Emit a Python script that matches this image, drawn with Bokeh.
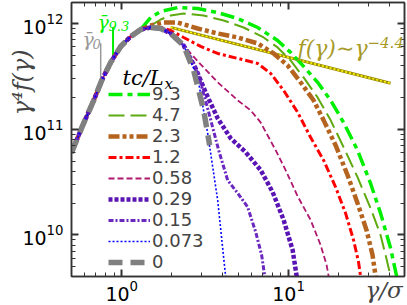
from bokeh.plotting import figure
from bokeh.models import Range1d, LogAxis, FixedTicker, Legend, LegendItem, Label
from bokeh.embed import file_html
from bokeh.resources import INLINE

# ---------------- data ----------------
x_range_lim = [0.5, 49.5]
y_range_lim = [4.05e9, 1.58e12]

x_major = [1, 10]
x_minor = [0.5, 0.6, 0.7, 0.8, 0.9, 2, 3, 4, 5, 6, 7, 8, 9, 20, 30, 40]
y_major = [1e10, 1e11, 1e12]
y_minor = [5e9, 6e9, 7e9, 8e9, 9e9, 2e10, 3e10, 4e10, 5e10, 6e10, 7e10, 8e10, 9e10,
           2e11, 3e11, 4e11, 5e11, 6e11, 7e11, 8e11, 9e11]

# common low-energy rise shared by every time
gamma_rise = [0.5, 0.584, 0.680, 0.759, 0.859, 0.986, 1.132, 1.300]
f_rise = [6.0e10, 1.09e11, 1.88e11, 2.90e11, 4.29e11, 6.07e11, 7.54e11, 8.78e11]

gamma_93 = [1.492, 1.712, 2.164, 2.852, 3.757, 4.951, 6.523, 8.593, 10.28, 12.30, 14.92,
            17.85, 21.35, 25.89, 30.97, 35.56, 40.83, 44.35, 46.22]
f_93 = [1.139e12, 1.298e12, 1.416e12, 1.385e12, 1.270e12, 1.115e12, 9.17e11, 6.91e11, 5.33e11,
        3.93e11, 2.78e11, 1.88e11, 1.16e11, 6.34e10, 3.09e10, 1.61e10, 7.54e9, 4.11e9, 2.90e9]

gamma_47 = [1.492, 1.712, 1.965, 2.351, 3.097, 4.081, 5.377, 7.086, 8.593, 10.28, 12.30, 14.92,
            17.85, 21.35, 25.89, 30.97, 35.56, 38.10, 40.83, 41.97]
f_47 = [9.57e11, 1.091e12, 1.190e12, 1.243e12, 1.190e12, 1.067e12, 9.17e11, 7.38e11, 5.94e11,
        4.48e11, 3.09e11, 2.00e11, 1.22e11, 6.77e10, 3.52e10, 1.80e10, 1.00e10, 6.48e9, 4.11e9, 3.03e9]

gamma_23 = [1.492, 1.785, 2.164, 2.852, 3.757, 4.951, 6.523, 8.132, 9.863, 11.80, 14.11, 16.20,
            19.12, 22.56, 25.89, 29.32, 31.84, 33.19, 34.12]
f_23 = [9.57e11, 1.022e12, 1.022e12, 8.97e11, 8.05e11, 7.38e11, 6.48e11, 5.21e11, 4.02e11,
        2.78e11, 1.88e11, 1.22e11, 7.07e10, 3.68e10, 2.00e10, 1.11e10, 6.48e9, 4.11e9, 3.03e9]

gamma_12 = [1.492, 1.712, 1.965, 2.351, 2.972, 3.757, 4.951, 6.523, 7.803, 9.335, 11.32, 13.54,
            16.20, 19.12, 21.95, 24.50, 26.25, 26.98, 27.74]
f_12 = [9.17e11, 9.17e11, 8.59e11, 7.38e11, 6.07e11, 5.21e11, 4.68e11, 4.19e11, 3.38e11, 2.33e11,
        1.45e11, 8.40e10, 5.10e10, 2.84e10, 1.61e10, 8.97e9, 5.56e9, 4.11e9, 3.03e9]

gamma_058 = [1.492, 1.712, 1.965, 2.256, 2.972, 3.757, 4.951, 5.923, 6.798, 8.360, 9.594, 11.32,
             13.54, 15.55, 16.89, 17.36, 17.85]
f_058 = [9.17e11, 8.97e11, 8.05e11, 6.62e11, 4.11e11, 2.78e11, 1.88e11, 1.51e11, 1.16e11, 6.34e10,
         4.11e10, 2.33e10, 1.39e10, 8.05e9, 5.21e9, 4.11e9, 3.03e9]

gamma_029 = [1.492, 1.712, 1.965, 2.351, 2.774, 3.184, 3.757, 4.496, 5.528, 6.798, 8.021, 9.335,
             10.57, 11.17, 11.48]
f_029 = [9.17e11, 8.97e11, 8.05e11, 6.20e11, 3.76e11, 2.23e11, 1.27e11, 8.22e10, 6.07e10, 4.11e10,
         2.55e10, 1.39e10, 7.22e9, 4.11e9, 3.03e9]

gamma_015 = [1.492, 1.712, 1.965, 2.417, 2.892, 3.319, 3.809, 4.313, 4.951, 5.683, 6.345, 6.893,
             7.185, 7.386]
f_015 = [9.17e11, 8.97e11, 8.05e11, 5.94e11, 3.23e11, 1.45e11, 6.34e10, 3.30e10, 2.49e10, 1.84e10,
         1.07e10, 6.48e9, 4.11e9, 3.03e9]

gamma_0073 = [1.492, 1.712, 1.965, 2.351, 2.852, 3.273, 3.757, 4.196, 4.313]
f_0073 = [9.17e11, 8.97e11, 8.05e11, 6.20e11, 3.09e11, 9.17e10, 2.14e10, 4.02e9, 3.03e9]

gamma_0 = [1.492, 1.712, 1.965, 2.351, 2.699, 3.097, 3.365]
f_0 = [9.17e11, 8.97e11, 8.05e11, 6.20e11, 3.60e11, 1.51e11, 7.07e10]

labels = ["9.3", "4.7", "2.3", "1.2", "0.58", "0.29", "0.15", "0.073", "0"]

# power-law guide f ~ gamma^-4.4  (gamma^4 f ~ gamma^-0.4)
pl_gamma = [1.965, 40.83]
pl_f = [9.2e11, 2.72e11]

# mean Lorentz factor markers
gbar_0 = 0.748
gbar_0_span = [6.5e11, 2.8e11]
gbar_93 = 0.887
gbar_93_span = [9.2e11, 4.6e11]

# ---------------- styles ----------------
styles = [
    ("#00ee00", 3.5, "14 5 5 5"),
    ("#5faa10", 2, "16 6"),
    ("#b4641e", 4.5, "11 3 4 3 4 3"),
    ("#ff0000", 3, "8 3 3 3"),
    ("#b0186e", 1.8, "6 3"),
    ("#5a14b4", 4.5, "4 2"),
    ("#6a28c0", 3, "5 2 2 2"),
    ("#0000ff", 1.6, "2 2"),
    ("#808080", 5.5, "14 8"),
]
tails = [(gamma_93, f_93), (gamma_47, f_47), (gamma_23, f_23), (gamma_12, f_12),
         (gamma_058, f_058), (gamma_029, f_029), (gamma_015, f_015),
         (gamma_0073, f_0073), (gamma_0, f_0)]

p = figure(width=407, height=305, x_axis_type="log", y_axis_type="log",
           x_range=Range1d(*x_range_lim), y_range=Range1d(*y_range_lim),
           output_backend="svg", toolbar_location=None,
           min_border_left=71, min_border_right=3, min_border_top=2, min_border_bottom=29)
p.title.visible = False
p.grid.visible = False
p.outline_line_color = "#333333"
p.outline_line_width = 1.5
p.background_fill_color = "white"

p.xaxis.ticker = FixedTicker(ticks=x_major, minor_ticks=x_minor)
p.yaxis.ticker = FixedTicker(ticks=y_major, minor_ticks=y_minor)
top_ax = LogAxis(ticker=FixedTicker(ticks=x_major, minor_ticks=x_minor))
right_ax = LogAxis(ticker=FixedTicker(ticks=y_major, minor_ticks=y_minor))
p.add_layout(top_ax, "above")
p.add_layout(right_ax, "right")

for ax in p.axis:
    ax.axis_line_color = "#333333"
    ax.axis_line_width = 1.5
    ax.major_tick_line_color = "#333333"
    ax.major_tick_line_width = 2
    ax.minor_tick_line_color = "#333333"
    ax.minor_tick_line_width = 1
    ax.major_tick_in = 7
    ax.major_tick_out = 0
    ax.minor_tick_in = 4
    ax.minor_tick_out = 0
    ax.major_label_text_font = "DejaVu Sans"
    ax.major_label_text_font_size = "19px"
    ax.major_label_text_color = "black"
for ax in (top_ax, right_ax):
    ax.major_label_text_font_size = "1px"
    ax.major_label_text_alpha = 0
    ax.major_label_standoff = 0

serif = "DejaVu Serif"
nb = "\u00a0"

xax = p.below[0]
xax.major_label_standoff = 3
xax.axis_label = nb * 40 + "γ/σ"
xax.axis_label_text_font = serif
xax.axis_label_text_font_style = "italic"
xax.axis_label_text_font_size = "23px"
xax.axis_label_standoff = -27

yax = p.left[0]
yax.major_label_standoff = 8
yax.axis_label = nb * 15 + "γ⁴f(γ)"
yax.axis_label_text_font = serif
yax.axis_label_text_font_style = "italic"
yax.axis_label_text_font_size = "24px"
yax.axis_label_standoff = -17

# power-law guide (olive outline with yellow dots)
p.line(pl_gamma, pl_f, line_color="#a09000", line_width=3)
p.line(pl_gamma, pl_f, line_color="#ffff00", line_width=1.5, line_dash="2 2")

# gamma-bar markers
p.line([gbar_0, gbar_0], gbar_0_span, line_color="#999999", line_width=1.5)
p.line([gbar_93, gbar_93], gbar_93_span, line_color="#00ee00", line_width=2)

items = []
for lab_txt, (gx, fy), (col, lw, dash) in zip(labels, tails, styles):
    r = p.line(gamma_rise + gx, f_rise + fy, line_color=col, line_width=lw, line_dash=dash)
    items.append(LegendItem(label=lab_txt, renderers=[r]))

leg = Legend(items=items, location=(37, 4), padding=0, margin=0, spacing=0,
             glyph_width=42, glyph_height=18, label_height=18, label_standoff=2,
             label_text_font="DejaVu Sans", label_text_font_size="18px",
             border_line_color=None, background_fill_alpha=0)
p.add_layout(leg)


def lab(x, y, text, size, color="black", align="left", angle=0.0):
    p.add_layout(Label(x=x, y=y, x_units="screen", y_units="screen", text=text,
                       text_font=serif, text_font_style="italic", text_font_size=size,
                       text_color=color, text_align=align, text_baseline="middle",
                       angle=angle))

# legend title tc/L_x
lab(51, 199, "tc/L", "21px")
lab(93, 193, "x", "15px")
# power-law annotation
olive = "#a89a28"
lab(226, 228, "f(γ)∼γ", "22px", color=olive)
lab(296, 234, "−4.4", "15px", color=olive)
# gamma-bar labels
lab(26, 255, "γ̄", "19px", color="#00ee00")
lab(37, 251, "9.3", "13px", color="#00ee00")
lab(11, 238, "γ̄", "19px", color="#999999")
lab(21, 233, "0", "13px", color="#999999")

open("out.html", "w").write(file_html(p, INLINE))
